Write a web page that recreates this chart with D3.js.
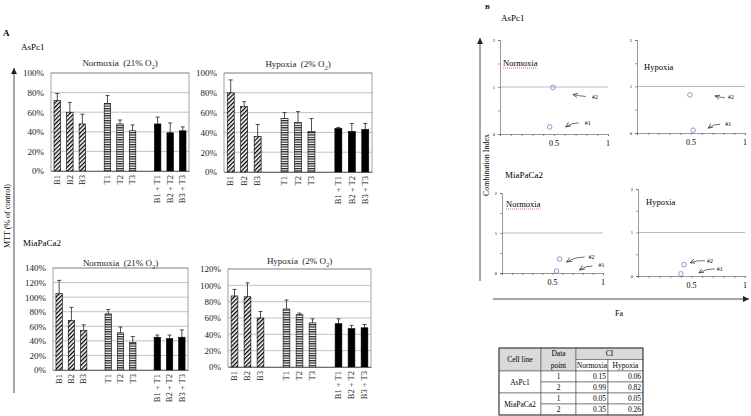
<!DOCTYPE html>
<html>
<head>
<meta charset="utf-8">
<script src="https://cdn.jsdelivr.net/npm/d3@7"></script>
<style>
body { margin: 0; background: #fff; }
svg { display: block; font-family: "Liberation Serif", "Times New Roman", serif; }
</style>
</head>
<body>
<svg id="fig" width="751" height="416"></svg>
<script>
// ---- data ----
var categories = ["B1", "B2", "B3", "T1", "T2", "T3", "B1 + T1", "B2 + T2", "B3 + T3"];
var barGroups = ["B", "B", "B", "T", "T", "T", "BT", "BT", "BT"];
var slots = ["B1", "B2", "B3", "gap1", "T1", "T2", "T3", "gap2", "B1 + T1", "B2 + T2", "B3 + T3"];

var aspc1Normoxia = [72, 60, 48, 69, 48, 41, 48, 39, 41];
var aspc1NormoxiaErr = [7, 10, 10, 8, 4, 6, 7, 10, 4];
var aspc1Hypoxia = [80, 66, 36, 54, 50, 41, 44, 41, 43];
var aspc1HypoxiaErr = [13, 5, 12, 6, 11, 13, 1, 8, 6];
var miaNormoxia = [105, 68, 54, 77, 51, 38, 45, 43, 45];
var miaNormoxiaErr = [18, 18, 8, 6, 8, 8, 3, 5, 10];
var miaHypoxia = [87, 86, 60, 71, 64, 54, 53, 47, 48];
var miaHypoxiaErr = [8, 17, 8, 11, 2, 5, 6, 4, 4];

var cellLines = ["AsPc1", "MiaPaCa2"];
var dataPoints = [1, 2];
var ciNormoxia = [[0.15, 0.99], [0.05, 0.35]];
var ciHypoxia = [[0.06, 0.82], [0.05, 0.26]];
var faNormoxia = [[0.46, 0.49], [0.54, 0.57]];
var faHypoxia = [[0.52, 0.49], [0.40, 0.43]];
var faTicks = [0.5, 1];
var ciTicks = [0, 1, 2];

var svg = d3.select("#fig");
var defs = svg.append("defs");

// hatch patterns
var diag = defs.append("pattern").attr("id", "diag").attr("patternUnits", "userSpaceOnUse")
    .attr("width", 3).attr("height", 3).attr("patternTransform", "rotate(45)");
diag.append("rect").attr("width", 3).attr("height", 3).attr("fill", "#fff");
diag.append("rect").attr("width", 1.3).attr("height", 3).attr("fill", "#000");

var horiz = defs.append("pattern").attr("id", "horiz").attr("patternUnits", "userSpaceOnUse")
    .attr("width", 4).attr("height", 2.4);
horiz.append("rect").attr("width", 4).attr("height", 2.4).attr("fill", "#fff");
horiz.append("rect").attr("width", 4).attr("height", 1.2).attr("fill", "#222");

defs.append("marker").attr("id", "arrowhead").attr("markerUnits", "userSpaceOnUse")
    .attr("markerWidth", 6).attr("markerHeight", 6).attr("refX", 5).attr("refY", 2.5)
    .attr("orient", "auto")
  .append("path").attr("d", "M0,0.3 L5,2.5 L0,4.7").attr("fill", "none")
    .attr("stroke", "#333").attr("stroke-width", 0.7);

defs.append("marker").attr("id", "bigarrow").attr("markerUnits", "userSpaceOnUse")
    .attr("markerWidth", 8).attr("markerHeight", 8).attr("refX", 6).attr("refY", 3)
    .attr("orient", "auto")
  .append("path").attr("d", "M0,0 L6,3 L0,6 Z").attr("fill", "#222");

var fills = { B: "url(#diag)", T: "url(#horiz)", BT: "#000" };

// ---- panel A ----
svg.append("text").attr("x", 3).attr("y", 36).attr("font-size", 9).attr("font-weight", "bold").text("A");
svg.append("text").attr("x", 21).attr("y", 50).attr("font-size", 9).text(cellLines[0]);
svg.append("text").attr("x", 23).attr("y", 246).attr("font-size", 9).text(cellLines[1]);

svg.append("line").attr("x1", 14).attr("x2", 14).attr("y1", 393).attr("y2", 68)
    .attr("stroke", "#222").attr("stroke-width", 0.8).attr("marker-end", "url(#bigarrow)");
svg.append("text").attr("transform", "translate(10,216) rotate(-90)")
    .attr("text-anchor", "middle").attr("font-size", 8).text("MTT (% of control)");

function barChart(box, label, vals, errs, yMax) {
    var g = svg.append("g");
    var x = d3.scaleBand().domain(slots).range([box.l, box.r]).paddingInner(0.48).paddingOuter(0.24);
    var y = d3.scaleLinear().domain([0, yMax]).range([box.b, box.t]);
    var ticks = d3.range(0, yMax + 1, 20);

    g.selectAll(".grid").data(ticks.slice(1)).enter().append("line")
        .attr("x1", box.l).attr("x2", box.r)
        .attr("y1", function (d) { return y(d); }).attr("y2", function (d) { return y(d); })
        .attr("stroke", "#b4b4b4").attr("stroke-width", 0.8);
    g.append("rect").attr("x", box.l).attr("y", box.t)
        .attr("width", box.r - box.l).attr("height", box.b - box.t)
        .attr("fill", "none").attr("stroke", "#8a8a8a").attr("stroke-width", 0.8);

    var ya = g.append("g").attr("transform", "translate(" + box.l + ",0)")
        .call(d3.axisLeft(y).tickValues(ticks).tickFormat(function (d) { return d + "%"; })
            .tickSize(0).tickPadding(7));
    ya.select(".domain").remove();
    ya.selectAll("text").attr("font-size", 9).attr("font-family", "Liberation Serif").attr("fill", "#222");

    var bars = categories.map(function (c, i) { return { c: c, v: vals[i], e: errs[i], grp: barGroups[i] }; });

    g.selectAll(".err").data(bars).enter().append("path")
        .attr("d", function (d) {
            var cx = x(d.c) + x.bandwidth() / 2;
            return "M" + cx + "," + y(d.v) + "V" + y(d.v + d.e) + "M" + (cx - 2) + "," + y(d.v + d.e) + "H" + (cx + 2);
        })
        .attr("stroke", "#222").attr("stroke-width", 0.8).attr("fill", "none");

    g.selectAll(".bar").data(bars).enter().append("rect")
        .attr("x", function (d) { return x(d.c); })
        .attr("y", function (d) { return y(d.v); })
        .attr("width", x.bandwidth())
        .attr("height", function (d) { return y(0) - y(d.v); })
        .attr("fill", function (d) { return fills[d.grp]; })
        .attr("stroke", "#000").attr("stroke-width", 0.6);

    var xa = g.append("g").attr("transform", "translate(0," + box.b + ")")
        .call(d3.axisBottom(x).tickValues(categories).tickSize(0));
    xa.select(".domain").attr("stroke", "#555").attr("stroke-width", 0.8);
    xa.selectAll("text").attr("font-size", 8.5).attr("font-family", "Liberation Serif").attr("fill", "#222")
        .attr("transform", "rotate(-90)").attr("text-anchor", "end")
        .attr("x", -4).attr("y", 0).attr("dy", "0.32em");

    var t = g.append("text").attr("x", (box.l + box.r) / 2).attr("y", box.ty)
        .attr("text-anchor", "middle").attr("font-size", 9).attr("fill", "#222");
    t.append("tspan").text(label[0]);
    t.append("tspan").attr("baseline-shift", "sub").attr("font-size", 6).text("2");
    t.append("tspan").text(")");
}

barChart({ l: 51, r: 189, t: 73, b: 171, ty: 66 }, ["Normoxia\u00a0 (21% O"], aspc1Normoxia, aspc1NormoxiaErr, 100);
barChart({ l: 224, r: 372, t: 73, b: 172, ty: 67 }, ["Hypoxia\u00a0 (2% O"], aspc1Hypoxia, aspc1HypoxiaErr, 100);
barChart({ l: 53, r: 188, t: 268, b: 370, ty: 266 }, ["Normoxia\u00a0 (21% O"], miaNormoxia, miaNormoxiaErr, 140);
barChart({ l: 228, r: 371, t: 269, b: 367, ty: 264 }, ["Hypoxia\u00a0 (2% O"], miaHypoxia, miaHypoxiaErr, 120);

// ---- panel B ----
svg.append("text").attr("x", 485).attr("y", 9).attr("font-size", 7).attr("font-weight", "bold").text("B");
svg.append("line").attr("x1", 480).attr("x2", 480).attr("y1", 281).attr("y2", 38)
    .attr("stroke", "#222").attr("stroke-width", 0.8).attr("marker-end", "url(#bigarrow)");
svg.append("text").attr("transform", "translate(489,165) rotate(-90)")
    .attr("text-anchor", "middle").attr("font-size", 8).text("Combination Index");
svg.append("line").attr("x1", 493).attr("x2", 749).attr("y1", 299).attr("y2", 299)
    .attr("stroke", "#222").attr("stroke-width", 0.8).attr("marker-end", "url(#bigarrow)");
svg.append("text").attr("x", 619).attr("y", 316).attr("text-anchor", "middle").attr("font-size", 8).text("Fa");

var ciPanels = [
    { cell: 0, cond: "Normoxia", ci: ciNormoxia, fa: faNormoxia, x0: 500, x1: 608, y0: 134, y2: 40,
      cellLabel: [501, 21], condLabel: [503, 66],
      ann: [[16, 0, 29, -4, 35, -4], [20, 7, 33, 9, 39, 9]] },
    { cell: 0, cond: "Hypoxia", ci: ciHypoxia, fa: faHypoxia, x0: 637, x1: 745, y0: 133, y2: 40,
      cellLabel: null, condLabel: [644, 70],
      ann: [[15, -2, 27, -6, 32, -6], [25, 1, 35, 3, 38, 2]] },
    { cell: 1, cond: "Normoxia", ci: ciNormoxia, fa: faNormoxia, x0: 502, x1: 603, y0: 273, y2: 193,
      cellLabel: [505, 178], condLabel: [506, 207],
      ann: [[23, -1, 36, -5, 42, -6], [7, 3, 25, -2, 29, -2]] },
    { cell: 1, cond: "Hypoxia", ci: ciHypoxia, fa: faHypoxia, x0: 638, x1: 745, y0: 276, y2: 189,
      cellLabel: null, condLabel: [646, 205],
      ann: [[18, -1, 34, -5, 36, -5], [6, -2, 21, -4, 23, -4]] }
];

ciPanels.forEach(function (p) {
    var g = svg.append("g");
    var x = d3.scaleLinear().domain([0, 1]).range([p.x0, p.x1]);
    var y = d3.scaleLinear().domain([0, 2]).range([p.y0, p.y2]);

    if (p.cellLabel) {
        g.append("text").attr("x", p.cellLabel[0]).attr("y", p.cellLabel[1]).attr("font-size", 9).text(cellLines[p.cell]);
    }
    var cl = g.append("text").attr("x", p.condLabel[0]).attr("y", p.condLabel[1]).attr("font-size", 8.5).text(p.cond);
    if (p.cond === "Normoxia") {
        var w = cl.node().getComputedTextLength();
        g.append("line").attr("x1", p.condLabel[0]).attr("x2", p.condLabel[0] + w)
            .attr("y1", p.condLabel[1] + 2).attr("y2", p.condLabel[1] + 2)
            .attr("stroke", "#e04040").attr("stroke-width", 0.8).attr("stroke-dasharray", "1,1");
    }

    // reference line at CI = 1
    g.append("line").attr("x1", x(0)).attr("x2", x(1)).attr("y1", y(1)).attr("y2", y(1))
        .attr("stroke", "#a8a8b0").attr("stroke-width", 0.8);

    var xa = g.append("g").attr("transform", "translate(0," + y(0) + ")")
        .call(d3.axisBottom(x).ticks(10).tickSize(2).tickFormat(""));
    xa.selectAll("path, line").attr("stroke", "#555").attr("stroke-width", 0.6);
    g.selectAll(".fal").data(faTicks).enter().append("text")
        .attr("x", function (d) { return x(d); }).attr("y", y(0) + 12)
        .attr("text-anchor", "middle").attr("font-size", 8).text(function (d) { return d; });

    var ya = g.append("g").attr("transform", "translate(" + x(0) + ",0)")
        .call(d3.axisLeft(y).tickValues([0, 0.5, 1, 1.5, 2]).tickSize(2).tickFormat(""));
    ya.selectAll("path, line").attr("stroke", "#555").attr("stroke-width", 0.6);
    g.selectAll(".cil").data(ciTicks).enter().append("text")
        .attr("x", x(0) - 5).attr("y", function (d) { return y(d); }).attr("dy", "0.35em")
        .attr("text-anchor", "end").attr("font-size", 4.5).text(function (d) { return d; });

    var pts = dataPoints.map(function (dp, i) {
        return { dp: dp, fa: p.fa[p.cell][i], ci: p.ci[p.cell][i], a: p.ann[i] };
    });

    g.selectAll(".pt").data(pts).enter().append("circle")
        .attr("cx", function (d) { return x(d.fa); }).attr("cy", function (d) { return y(d.ci); })
        .attr("r", 2.3).attr("fill", "none").attr("stroke", "#7b7bcf").attr("stroke-width", 0.8);

    g.selectAll(".arr").data(pts).enter().append("path")
        .attr("d", function (d) {
            var px = x(d.fa), py = y(d.ci);
            var hx = px + d.a[0], hy = py + d.a[1], tx = px + d.a[2], ty = py + d.a[3];
            return "M" + tx + "," + ty + "Q" + ((hx + tx) / 2) + "," + (ty - 0.5) + " " + hx + "," + hy;
        })
        .attr("fill", "none").attr("stroke", "#333").attr("stroke-width", 0.7)
        .attr("marker-end", "url(#arrowhead)");

    g.selectAll(".lbl").data(pts).enter().append("text")
        .attr("x", function (d) { return x(d.fa) + d.a[4]; })
        .attr("y", function (d) { return y(d.ci) + d.a[5]; }).attr("dy", "0.35em")
        .attr("font-size", 6).text(function (d) { return "#" + d.dp; });
});

// ---- CI table ----
var colX = [499, 541, 576, 608, 643];
var rowY = [348, 359.5, 371, 382, 393, 404, 415];
var tg = svg.append("g").attr("font-size", 7.5);

function cell(c0, c1, r0, r1, fill) {
    tg.append("rect").attr("x", colX[c0]).attr("y", rowY[r0])
        .attr("width", colX[c1] - colX[c0]).attr("height", rowY[r1] - rowY[r0])
        .attr("fill", fill || "#fff").attr("stroke", "#555").attr("stroke-width", 0.6);
}
function ctext(xp, yp, s, anchor) {
    tg.append("text").attr("x", xp).attr("y", yp).attr("dy", "0.35em")
        .attr("text-anchor", anchor || "middle").text(s);
}

cell(0, 1, 0, 2, "#dadada");
ctext((colX[0] + colX[1]) / 2, (rowY[0] + rowY[2]) / 2, "Cell line");
cell(1, 2, 0, 2, "#dadada");
ctext((colX[1] + colX[2]) / 2, rowY[0] + 5.5, "Data");
ctext((colX[1] + colX[2]) / 2, rowY[1] + 5.5, "point");
cell(2, 4, 0, 1, "#dadada");
ctext((colX[2] + colX[4]) / 2, (rowY[0] + rowY[1]) / 2, "CI");
cell(2, 3, 1, 2);
ctext((colX[2] + colX[3]) / 2, (rowY[1] + rowY[2]) / 2, "Normoxia");
cell(3, 4, 1, 2);
ctext((colX[3] + colX[4]) / 2, (rowY[1] + rowY[2]) / 2, "Hypoxia");

cellLines.forEach(function (name, ci) {
    var r0 = 2 + ci * 2;
    cell(0, 1, r0, r0 + 2);
    ctext((colX[0] + colX[1]) / 2, (rowY[r0] + rowY[r0 + 2]) / 2, name);
    dataPoints.forEach(function (dp, k) {
        var r = r0 + k;
        var ym = (rowY[r] + rowY[r + 1]) / 2;
        cell(1, 2, r, r + 1);
        ctext((colX[1] + colX[2]) / 2, ym, dp);
        cell(2, 3, r, r + 1);
        ctext(colX[3] - 2, ym, ciNormoxia[ci][k].toFixed(2), "end");
        cell(3, 4, r, r + 1);
        ctext(colX[4] - 2, ym, ciHypoxia[ci][k].toFixed(2), "end");
    });
});
tg.append("rect").attr("x", colX[0]).attr("y", rowY[0])
    .attr("width", colX[4] - colX[0]).attr("height", rowY[6] - rowY[0])
    .attr("fill", "none").attr("stroke", "#333").attr("stroke-width", 0.9);
</script>
</body>
</html>
